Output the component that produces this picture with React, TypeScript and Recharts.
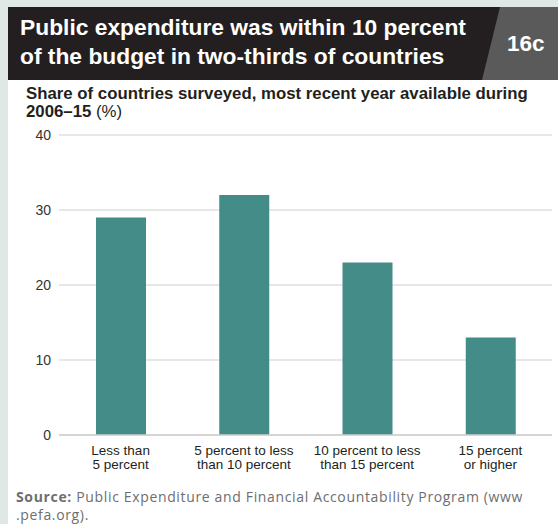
import { Bar, BarChart, CartesianGrid, XAxis, YAxis } from "recharts";

const categories = ["Less than|5 percent", "5 percent to less|than 10 percent", "10 percent to less|than 15 percent", "15 percent|or higher"];
const shares = [29, 32, 23, 13];
const yTicks = [0, 10, 20, 30, 40];

const data = categories.map((name, i) => ({ name, value: shares[i] }));

const narrow = "'Liberation Sans Narrow', 'Arial Narrow', 'Liberation Sans', sans-serif";
const sans = "'Liberation Sans', Arial, sans-serif";

function CategoryTick(props: any) {
  const { x, y, payload } = props;
  const lines = String(payload.value).split("|");
  return (
    <text x={x} y={y} textAnchor="middle" fill="#231f20" fontFamily={narrow} fontSize={13.5}>
      {lines.map((line, i) => (
        <tspan key={i} x={x} dy={i === 0 ? 12 : 14}>
          {line}
        </tspan>
      ))}
    </text>
  );
}

export default function App() {
  return (
    <div style={{ position: "absolute", left: 0, top: 0, width: 558, height: 524, background: "#dfe8e5", overflow: "hidden" }}>
      <div style={{ position: "absolute", left: 8, top: 80, width: 550, height: 444, background: "#fff" }} />
      <div style={{ position: "absolute", left: 8, top: 7, width: 550, height: 73, background: "#231f20" }} />
      <div
        style={{
          position: "absolute",
          left: 482,
          top: 7,
          width: 76,
          height: 73,
          background: "#5a5a5a",
          clipPath: "polygon(18px 0, 76px 0, 76px 73px, 0 73px)",
        }}
      />
      <div
        style={{
          position: "absolute",
          left: 20,
          top: 13,
          color: "#fff",
          fontFamily: sans,
          fontWeight: 700,
          fontSize: 22.8,
          lineHeight: "29px",
        }}
      >
        Public expenditure was within 10 percent
        <br />
        of the budget in two-thirds of countries
      </div>
      <div
        style={{ position: "absolute", left: 507, top: 31, color: "#fff", fontFamily: sans, fontWeight: 700, fontSize: 22.5 }}
      >
        16c
      </div>
      <div
        style={{
          position: "absolute",
          left: 26,
          top: 85,
          width: 530,
          color: "#231f20",
          fontFamily: sans,
          fontSize: 16.8,
          lineHeight: "18px",
        }}
      >
        <span style={{ fontWeight: 600 }}>Share of countries surveyed, most recent year available during</span>
        <br />
        <span style={{ fontWeight: 600 }}>2006–15</span> (%)
      </div>
      <div style={{ position: "absolute", left: 8, top: 125 }}>
        <BarChart width={550} height={355} data={data} margin={{ top: 10, right: 6, bottom: 5, left: 11 }} barSize={50}>
          <CartesianGrid vertical={false} stroke="#cfcfcf" strokeWidth={1.2} />
          <XAxis
            dataKey="name"
            axisLine={{ stroke: "#cfcfcf", strokeWidth: 1.5 }}
            tickLine={false}
            height={40}
            interval={0}
            tick={<CategoryTick />}
          />
          <YAxis
            domain={[0, 40]}
            ticks={yTicks}
            axisLine={false}
            tickLine={false}
            width={40}
            tick={{ fill: "#333", fontSize: 14, fontFamily: sans }}
          />
          <Bar dataKey="value" fill="#448c87" isAnimationActive={false} />
        </BarChart>
      </div>
      <div
        style={{
          position: "absolute",
          left: 16,
          top: 488,
          width: 540,
          color: "#6d6e71",
          fontFamily: "'Open Sans', sans-serif",
          fontSize: 14,
          letterSpacing: 0.65,
          lineHeight: "18px",
        }}
      >
        <span style={{ fontWeight: 700 }}>Source:</span> Public Expenditure and Financial Accountability Program (www
        <br />
        .pefa.org).
      </div>
    </div>
  );
}
